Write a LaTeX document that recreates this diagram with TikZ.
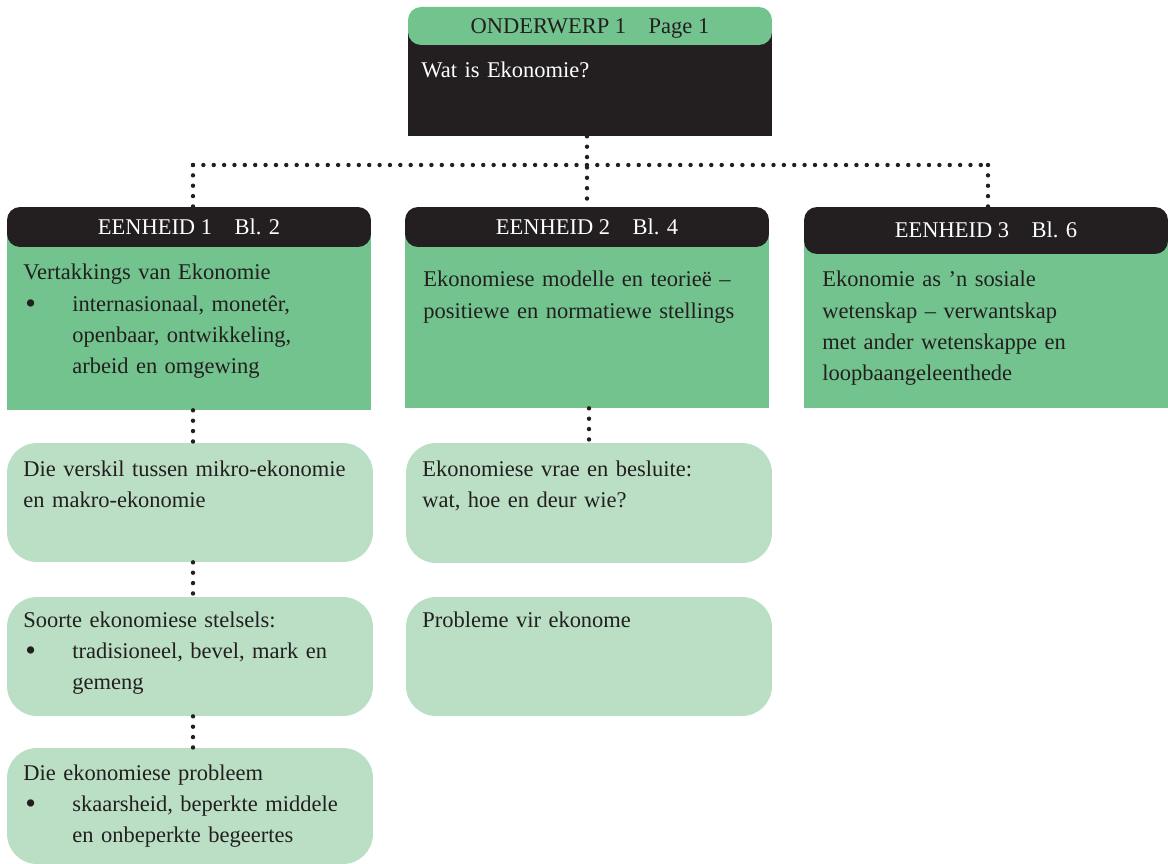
\documentclass[tikz,border=0pt]{standalone}
\usepackage{fontspec}
\setmainfont{Liberation Serif}
\definecolor{ekblack}{HTML}{231F20}
\definecolor{ekgreen}{HTML}{72C38D}
\definecolor{eklight}{HTML}{BADFC4}
\newcommand{\itemdot}{\makebox[0.98cm][l]{\hspace*{0.04cm}%
  \raisebox{-0.08em}{\scalebox{1.35}{\textbullet}}}}
\newcommand{\itemgap}{\hspace*{0.98cm}}
\tikzset{
  head/.style={rounded corners=0.26cm,minimum width=7.28cm,inner sep=0pt,
    text height=8.5pt,text depth=0pt},
  darkhead/.style={head,fill=ekblack,text=white},
  greenhead/.style={head,fill=ekgreen,text=ekblack},
  unitbody/.style={fill=ekgreen,minimum width=7.28cm,inner sep=0pt},
  leaf/.style={fill=eklight,rounded corners=0.6cm,minimum width=7.32cm,
    minimum height=2.38cm,inner sep=0pt},
  txt/.style={anchor=base west,inner sep=0pt,text width=6.9cm,align=left,
    text=ekblack},
  dotline/.style={draw=ekblack,line width=2.5pt,line cap=round,
    dash pattern=on 0pt off 5.9pt}
}
\begin{document}
\begin{tikzpicture}[x=0.02cm,y=-0.02cm,
  font=\fontsize{12.8}{17.8}\selectfont]
\useasboundingbox (0,0) rectangle (1168,864);
% onderwerp
\node[unitbody,fill=ekblack,minimum height=2.2cm] (owbody) at (590,81) {};
\node[greenhead,minimum height=0.76cm] (ow) at (590,26)
  {ONDERWERP 1\quad Page 1};
\node[txt,text=white] (owtext) at (421,78) {Wat is Ekonomie?};
% eenhede
\node[unitbody,minimum height=3.66cm] (eb1) at (189,318.5) {};
\node[darkhead,minimum height=0.8cm] (eh1) at (189,227) {EENHEID 1\quad Bl. 2};
\node[txt] (et1) at (23,280) {Vertakkings van Ekonomie\\
  \itemdot internasionaal, monetêr,\\
  \itemgap openbaar, ontwikkeling,\\
  \itemgap arbeid en omgewing};
\node[unitbody,minimum height=3.62cm] (eb2) at (587,317.5) {};
\node[darkhead,minimum height=0.8cm] (eh2) at (587,227) {EENHEID 2\quad Bl. 4};
\node[txt] (et2) at (423,287) {Ekonomiese modelle en teorieë --\\
  positiewe en normatiewe stellings};
\node[unitbody,minimum height=3.56cm] (eb3) at (986,319) {};
\node[darkhead,minimum height=0.94cm] (eh3) at (986,230.5) {EENHEID 3\quad Bl. 6};
\node[txt] (et3) at (822,287) {Ekonomie as ’n sosiale\\
  wetenskap -- verwantskap\\
  met ander wetenskappe en\\
  loopbaangeleenthede};
% onderwerpe onder eenheid 1
\node[leaf] (l11) at (190,502.5) {};
\node[txt] at (23,476) {Die verskil tussen mikro-ekonomie\\en makro-ekonomie};
\node[leaf] (l12) at (190,656.5) {};
\node[txt] at (23,627) {Soorte ekonomiese stelsels:\\
  \itemdot tradisioneel, bevel, mark en\\
  \itemgap gemeng};
\node[leaf,minimum height=2.32cm] (l13) at (190,806) {};
\node[txt] at (23,780) {Die ekonomiese probleem\\
  \itemdot skaarsheid, beperkte middele\\
  \itemgap en onbeperkte begeertes};
% onderwerpe onder eenheid 2
\node[leaf,minimum height=2.4cm] (l21) at (589,503) {};
\node[txt] at (422,476) {Ekonomiese vrae en besluite:\\wat, hoe en deur wie?};
\node[leaf] (l22) at (589,656.5) {};
\node[txt] at (422,627) {Probleme vir ekonome};
% verbindings
\coordinate (busL) at (193,165);
\coordinate (busR) at (988,165);
\draw[dotline] (busL) -- (busR);
\draw[dotline] (owbody.south -| eh2.north) -- (eh2.north);
\draw[dotline] (busL) -- (busL |- eh1.north);
\draw[dotline] (busR) -- (busR |- eh3.north);
\draw[dotline] (eb1.south -| busL) -- (l11.north -| busL);
\draw[dotline] (l11.south -| busL) -- (l12.north -| busL);
\draw[dotline] (l12.south -| busL) -- (l13.north -| busL);
\draw[dotline] (eb2.south -| l21.north) -- (l21.north);
\end{tikzpicture}
\end{document}
